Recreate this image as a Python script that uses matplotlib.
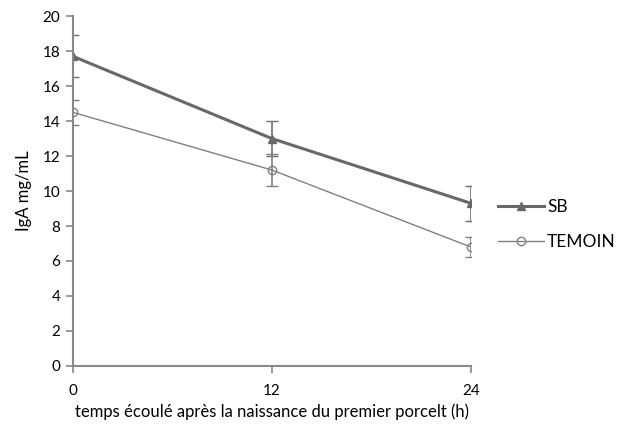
import matplotlib
matplotlib.use('Agg')
import matplotlib.pyplot as plt
from matplotlib.lines import Line2D

plt.rcParams['font.family'] = ['Lato', 'DejaVu Sans']

hours = [0, 12, 24]
sb = [17.7, 13.0, 9.3]
sb_err = [1.2, 1.0, 1.0]
temoin = [14.5, 11.2, 6.8]
temoin_err = [0.7, 0.9, 0.55]

fig = plt.figure(figsize=(6.32, 4.25), dpi=100)
ax = fig.add_axes([0.1155, 0.139, 0.6295, 0.823])

ax.errorbar(hours, sb, yerr=sb_err, color='#686868', lw=2.2, marker='^',
            ms=6, capsize=4, elinewidth=1.2, ecolor='#707070')
ax.errorbar(hours, temoin, yerr=temoin_err, color='#808080', lw=1.0, marker='o',
            ms=6, mfc='none', capsize=4, elinewidth=1.2, ecolor='#808080')

ax.set_xlim(0, 24)
ax.set_ylim(0, 20)
ax.set_xticks(hours)
ax.set_yticks(range(0, 21, 2))
for s in ['top', 'right']:
    ax.spines[s].set_visible(False)
for s in ['left', 'bottom']:
    ax.spines[s].set_color('#888888')
    ax.spines[s].set_linewidth(1.5)
ax.tick_params(axis='both', color='#888888', width=1.2, length=5, labelsize=11, pad=4)
ax.tick_params(axis='x', pad=8)

ax.set_xlabel('temps écoulé après la naissance du premier porcelt (h)', fontsize=12, labelpad=4)
ax.set_ylabel('IgA mg/mL', fontsize=12, labelpad=8)

handles = [
    Line2D([], [], color='#686868', lw=2.2, marker='^', ms=6),
    Line2D([], [], color='#808080', lw=1.0, marker='o', ms=6, mfc='none'),
]
ax.legend(handles, ['SB', 'TEMOIN'], loc='center left', bbox_to_anchor=(1.03, 0.405),
          frameon=False, fontsize=12.5, handlelength=2.6, labelspacing=1.1,
          handletextpad=0.2)

fig.savefig('out.png')
